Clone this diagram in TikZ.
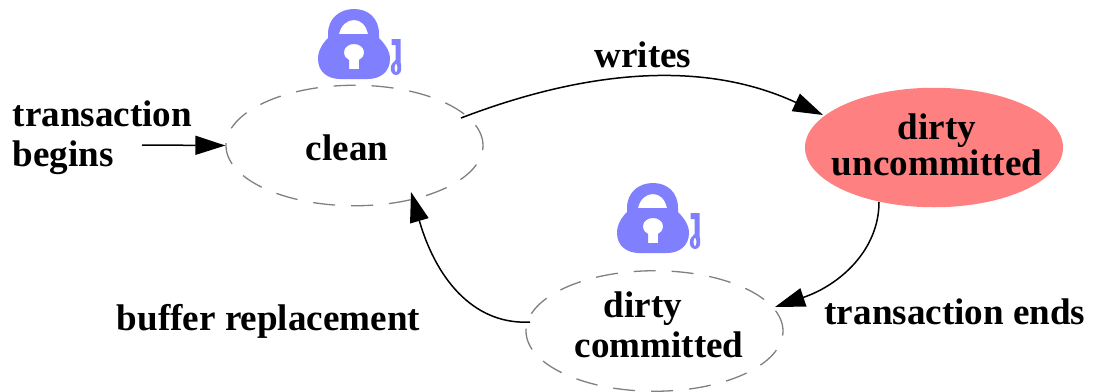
\documentclass[tikz,border=0pt]{standalone}
\usepackage{fontspec}
\setmainfont{Liberation Serif}
\usetikzlibrary{shapes.geometric,arrows.meta}
\definecolor{lockblue}{RGB}{128,128,255}
\definecolor{dirtyred}{RGB}{255,128,128}
\tikzset{
  x=1pt,y=-1pt,
  statebox/.style={ellipse,inner sep=0pt,minimum width=257pt,minimum height=120.5pt},
  clearstate/.style={statebox,draw=black!50,line width=1.3pt,dash pattern=on 22pt off 16pt},
  hotstate/.style={statebox,fill=dirtyred,minimum width=258pt,minimum height=119.5pt},
  txt/.style={font=\fontsize{37.1}{39}\selectfont\bfseries,inner sep=0pt,align=center},
  edge/.style={line width=1.5pt,-{Triangle[length=30pt,width=19pt]}},
  padlock/.pic={
    \fill[lockblue,even odd rule]
      (328,38) -- (328,34) .. controls (328,18) and (340,9) .. (354,9)
      .. controls (368,9) and (379,18) .. (379,34) -- (379,38)
      .. controls (385,44) and (390,51) .. (390,59)
      .. controls (390,72) and (380,79) .. (368,79) -- (340,79)
      .. controls (328,79) and (318,72) .. (318,59)
      .. controls (318,51) and (322,44) .. (328,38) -- cycle
      (339,34) .. controls (341,25) and (347,20) .. (354,20)
      .. controls (361,20) and (366,25) .. (368,34) -- cycle
      (349,69) -- (349,60) .. controls (346,59) and (344,56) .. (344,52)
      .. controls (344,47) and (349,44) .. (354,44)
      .. controls (359,44) and (364,47) .. (364,52)
      .. controls (364,56) and (362,59) .. (359,60) -- (359,69) -- cycle;
    \fill[lockblue,even odd rule]
      (391.5,39) -- (400.5,39) -- (400.5,62)
      .. controls (401.5,66) and (401.5,70) .. (400.5,72)
      .. controls (399,76) and (393,76) .. (391.5,72)
      .. controls (390.5,70) and (390.5,66) .. (392,64)
      -- (395.5,60) -- (395.5,45) -- (391.5,45) -- cycle
      (396,63.5) .. controls (394,65) and (394,71) .. (396,72.5)
      .. controls (398,71) and (398,65) .. (396,63.5) -- cycle;
  }
}
\begin{document}
\begin{tikzpicture}
\useasboundingbox (0,0) rectangle (1095,391);
\node[clearstate] (clean) at (354.5,145.5) {};
\node[hotstate] (uncommitted) at (934,147.5) {};
\node[clearstate] (committed) at (654.5,331) {};
\node[txt] (cleantext) at (347,148) {clean};
\node[txt,font=\fontsize{37.1}{36}\selectfont\bfseries] (uncommittedtext) at (937,144.5) {dirty\\uncommitted};
\node[txt,font=\fontsize{37.1}{40}\selectfont\bfseries] (committedtext) at (659,324.5) {dirty\hspace*{32pt}\\committed};
\node[txt,align=left,anchor=west,font=\fontsize{37.1}{40}\selectfont\bfseries] (begins) at (12.5,138) {transaction\\begins};
\node[txt] (writes) at (643,54.5) {writes};
\node[txt] (buffer) at (268.5,321) {buffer replacement};
\node[txt] (ends) at (955,312) {transaction ends};
\pic {padlock};
\pic at (299,174) {padlock};
\coordinate (start) at (142,145);
\draw[edge] (start) -- (clean.west);
\draw[edge] ([shift={(106.5,-27.5)}]clean.center) .. controls +(120,-46) and +(-123,-57) .. ([shift={(-111,-32.5)}]uncommitted.center);
\draw[edge] ([shift={(-55,54.5)}]uncommitted.center) .. controls +(0,48) and +(65,-22) .. ([shift={(120.5,-24)}]committed.center);
\draw[edge] ([shift={(-124.5,-9)}]committed.center) .. controls +(-52,3) and +(27,93) .. ([shift={(56.5,46.5)}]clean.center);
\end{tikzpicture}
\end{document}
